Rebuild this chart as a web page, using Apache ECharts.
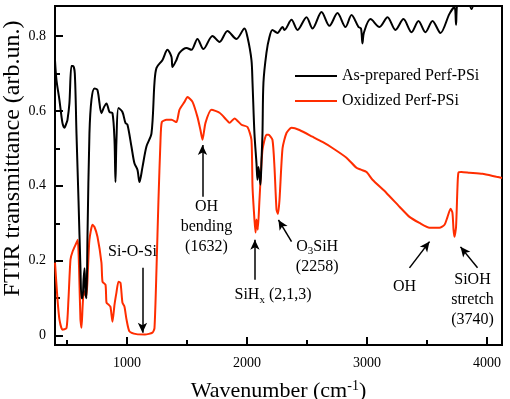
<!DOCTYPE html>
<html>
<head>
<meta charset="utf-8">
<script src="https://cdn.jsdelivr.net/npm/echarts@6/dist/echarts.min.js"></script>
<style>
  html, body { margin: 0; padding: 0; background: #fff; }
  #chart { width: 510px; height: 399px; }
</style>
</head>
<body>
<div id="chart"></div>
<script>
// wavenumber (cm-1) / transmittance
const asPrepWn = [400, 412, 437, 462, 479, 496, 504, 520, 537, 550, 565, 579, 596, 612, 621, 629, 638, 646, 654, 662, 671, 687, 704, 729, 754, 787, 808, 829, 854, 879, 896, 904, 912, 929, 962, 987, 1004, 1037, 1062, 1087, 1104, 1129, 1162, 1204, 1229, 1246, 1296, 1337, 1371, 1379, 1412, 1437, 1496, 1537, 1587, 1637, 1712, 1771, 1837, 1912, 1979, 2004, 2037, 2046, 2062, 2079, 2087, 2096, 2112, 2121, 2129, 2137, 2162, 2187, 2212, 2254, 2296, 2312, 2371, 2421, 2496, 2546, 2621, 2687, 2754, 2821, 2871, 2929, 2950, 2962, 2975, 3029, 3104, 3171, 3237, 3304, 3371, 3429, 3487, 3546, 3612, 3687, 3729, 3742, 3754, 3812, 3871, 3930, 4125];
const asPrepT = [0.735, 0.683, 0.629, 0.568, 0.555, 0.568, 0.576, 0.62, 0.72, 0.72, 0.70, 0.54, 0.36, 0.18, 0.10, 0.10, 0.15, 0.18, 0.115, 0.10, 0.27, 0.54, 0.63, 0.66, 0.656, 0.594, 0.61, 0.62, 0.597, 0.594, 0.52, 0.41, 0.52, 0.608, 0.597, 0.568, 0.563, 0.505, 0.46, 0.443, 0.41, 0.45, 0.505, 0.54, 0.675, 0.715, 0.736, 0.763, 0.744, 0.717, 0.736, 0.755, 0.768, 0.763, 0.792, 0.765, 0.80, 0.784, 0.813, 0.792, 0.82, 0.797, 0.736, 0.675, 0.54, 0.46, 0.416, 0.45, 0.403, 0.47, 0.54, 0.675, 0.755, 0.797, 0.816, 0.808, 0.824, 0.816, 0.843, 0.816, 0.85, 0.82, 0.864, 0.827, 0.861, 0.824, 0.856, 0.824, 0.82, 0.78, 0.81, 0.845, 0.824, 0.85, 0.816, 0.845, 0.81, 0.84, 0.81, 0.84, 0.808, 0.859, 0.877, 0.83, 0.89, 0.93, 0.872, 0.93, 0.95];

const oxWn = [400, 420, 437, 462, 496, 512, 529, 546, 579, 590, 600, 612, 621, 630, 640, 650, 662, 675, 687, 712, 729, 754, 787, 796, 821, 829, 846, 862, 879, 896, 912, 929, 946, 962, 979, 996, 1021, 1079, 1150, 1212, 1229, 1246, 1262, 1279, 1290, 1329, 1371, 1412, 1437, 1479, 1504, 1546, 1587, 1612, 1629, 1654, 1704, 1771, 1829, 1854, 1896, 1954, 2004, 2037, 2046, 2062, 2071, 2079, 2090, 2104, 2129, 2162, 2179, 2212, 2229, 2246, 2258, 2271, 2296, 2329, 2371, 2437, 2546, 2629, 2712, 2829, 2912, 2950, 2996, 3046, 3162, 3271, 3354, 3437, 3521, 3604, 3646, 3671, 3696, 3712, 3721, 3729, 3742, 3754, 3762, 3787, 3854, 3962, 4079, 4125];
const oxT = [0.195, 0.10, 0.043, 0.016, 0.02, 0.096, 0.203, 0.224, 0.248, 0.256, 0.185, 0.043, 0.021, 0.077, 0.12, 0.11, 0.104, 0.18, 0.256, 0.296, 0.29, 0.264, 0.195, 0.144, 0.136, 0.088, 0.083, 0.077, 0.037, 0.083, 0.115, 0.144, 0.141, 0.088, 0.077, 0.043, 0.011, 0.004, 0.003, 0.008, 0.02, 0.18, 0.36, 0.52, 0.57, 0.576, 0.576, 0.57, 0.603, 0.624, 0.637, 0.624, 0.584, 0.549, 0.523, 0.568, 0.603, 0.595, 0.576, 0.568, 0.58, 0.563, 0.557, 0.523, 0.397, 0.31, 0.275, 0.31, 0.283, 0.363, 0.496, 0.536, 0.536, 0.523, 0.45, 0.336, 0.325, 0.363, 0.50, 0.541, 0.555, 0.549, 0.531, 0.517, 0.501, 0.475, 0.448, 0.443, 0.437, 0.416, 0.381, 0.344, 0.317, 0.301, 0.288, 0.288, 0.296, 0.317, 0.339, 0.328, 0.283, 0.264, 0.29, 0.397, 0.435, 0.437, 0.435, 0.432, 0.424, 0.421];

const xMajorTicks = [1000, 2000, 3000, 4000];
const xMinorTicks = [500, 1500, 2500, 3500];
const yMajorTicks = [0, 0.2, 0.4, 0.6, 0.8];
const yMinorTicks = [0.1, 0.3, 0.5, 0.7];

// annotation texts: [wavenumber, transmittance, text]
const noteTexts = [
  [1046, 0.224, 'Si-O-Si'],
  [1662, 0.291, 'OH\nbending\n(1632)'],
  [2217, 0.108, 'SiH{sub|x} (2,1,3)'],
  [2585, 0.21, 'O{sub|3}SiH\n(2258)'],
  [3312, 0.131, 'OH'],
  [3879, 0.096, 'SiOH\nstretch\n(3740)']
];
// arrows: [fromWn, fromT, toWn, toT]
const noteArrows = [
  [1129, 0.181, 1129, 0.008],
  [1629, 0.371, 1629, 0.509],
  [2066, 0.149, 2066, 0.256],
  [2371, 0.251, 2262, 0.309],
  [3354, 0.181, 3521, 0.251],
  [3921, 0.181, 3779, 0.237]
];

const serif = '"Liberation Serif", "DejaVu Serif", serif';
const pairs = (xs, ys) => xs.map((x, i) => [x, ys[i]]);

var myChart = echarts.init(document.getElementById('chart'));

const tickAxisX = (vals, len, showLabel) => ({
  type: 'value', min: 400, max: 4125, position: 'bottom',
  axisLine: { show: showLabel, onZero: false, lineStyle: { color: '#000', width: 2 } },
  axisTick: { show: true, inside: true, length: len, customValues: vals, lineStyle: { color: '#000', width: 2 } },
  axisLabel: { show: showLabel, customValues: vals, color: '#000', fontFamily: serif, fontSize: 14, margin: 11,
    formatter: v => String(v) },
  splitLine: { show: false }
});
const tickAxisY = (vals, len, showLabel) => ({
  type: 'value', min: -0.025, max: 0.88, position: 'left',
  axisLine: { show: showLabel, onZero: false, lineStyle: { color: '#000', width: 2 } },
  axisTick: { show: true, inside: true, length: len, customValues: vals, lineStyle: { color: '#000', width: 2 } },
  axisLabel: { show: showLabel, customValues: vals, color: '#000', fontFamily: serif, fontSize: 14, margin: 9,
    formatter: v => (v === 0 ? '0' : v.toFixed(1)) },
  splitLine: { show: false }
});

const xMain = tickAxisX(xMajorTicks, 8, true);
xMain.name = 'Wavenumber (cm{sup|-1})';
xMain.nameLocation = 'middle';
xMain.nameGap = 34;
xMain.nameMoveOverlap = false;
xMain.nameTextStyle = { color: '#000', fontFamily: serif, fontSize: 22,
  rich: { sup: { fontFamily: serif, fontSize: 14, verticalAlign: 'top', padding: [0, 0, 10, 0], color: '#000' } } };

const yMain = tickAxisY(yMajorTicks, 8, true);
yMain.name = 'FTIR transmittance (arb.un.)';
yMain.nameLocation = 'middle';
yMain.nameGap = 30;
yMain.nameMoveOverlap = false;
yMain.nameTextStyle = { color: '#000', fontFamily: serif, fontSize: 24, padding: [0, 0, 0, 34] };

myChart.setOption({
  animation: false,
  backgroundColor: '#fff',
  grid: { left: 55, right: 8, top: 6, bottom: 54, outerBoundsMode: 'none',
    show: true, borderColor: '#000', borderWidth: 2 },
  legend: {
    orient: 'vertical', left: 290, top: 62, itemGap: 7,
    itemWidth: 42, itemHeight: 2, icon: 'rect',
    textStyle: { color: '#000', fontFamily: serif, fontSize: 16, lineHeight: 18 },
    data: ['As-prepared Perf-PSi', 'Oxidized Perf-PSi']
  },
  xAxis: [xMain, tickAxisX(xMinorTicks, 5, false)],
  yAxis: [yMain, tickAxisY(yMinorTicks, 5, false)],
  series: [
    {
      name: 'As-prepared Perf-PSi', type: 'line', showSymbol: false, symbol: 'none',
      data: pairs(asPrepWn, asPrepT), color: '#000', smooth: 0.3,
      lineStyle: { color: '#000', width: 2 }, clip: true, z: 3
    },
    {
      name: 'Oxidized Perf-PSi', type: 'line', showSymbol: false, symbol: 'none',
      data: pairs(oxWn, oxT), color: '#ff2d00', smooth: 0.2,
      lineStyle: { color: '#ff2d00', width: 2 }, clip: true, z: 2,
      markLine: {
        silent: true, symbol: ['none', 'arrow'], symbolSize: [7, 10],
        label: { show: false },
        lineStyle: { color: '#000', width: 1.5, type: 'solid' },
        data: noteArrows.map(a => [{ coord: [a[0], a[1]] }, { coord: [a[2], a[3]] }])
      },
      markPoint: {
        silent: true, symbol: 'circle', symbolSize: 0,
        label: {
          show: true, position: 'inside', color: '#000', fontFamily: serif, fontSize: 16, lineHeight: 20,
          rich: { sub: { fontFamily: serif, fontSize: 11, color: '#000', verticalAlign: 'bottom', padding: [8, 0, 0, 0] } }
        },
        data: noteTexts.map(n => ({ coord: [n[0], n[1]], value: n[2], label: { formatter: n[2] } }))
      }
    }
  ]
});
</script>
</body>
</html>
